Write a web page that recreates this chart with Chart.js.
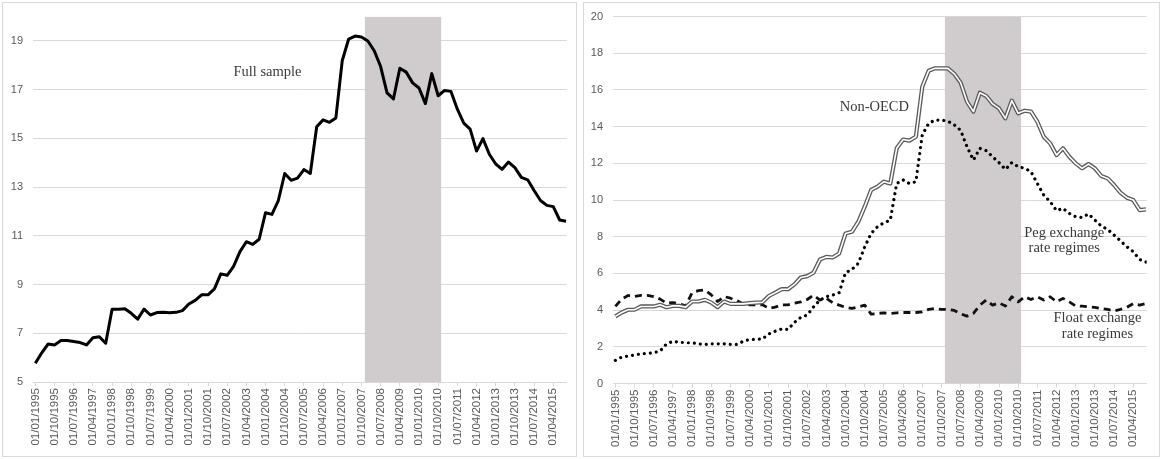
<!DOCTYPE html>
<html>
<head>
<meta charset="utf-8">
<script src="https://cdn.jsdelivr.net/npm/chart.js@4.4.1/dist/chart.umd.min.js"></script>
<style>
  html, body { margin: 0; padding: 0; background: #ffffff; }
  body { width: 1162px; height: 459px; position: relative; overflow: hidden; }
  .panel { position: absolute; border: 1px solid #d9d9d9; box-sizing: border-box; }
  canvas { position: absolute; top: 0; }
</style>
</head>
<body>
<div class="panel" style="left:2px;top:2px;width:575px;height:455px"></div>
<div class="panel" style="left:583px;top:2px;width:577px;height:455px"></div>
<canvas id="leftChart" width="580" height="459" style="left:0;width:580px;height:459px"></canvas>
<canvas id="rightChart" width="582" height="459" style="left:580px;width:582px;height:459px"></canvas>
<script>
// Quarterly observations, Q1 1995 to Q4 2015 (dd/mm/yyyy)
const quarters = [];
for (let year = 1995; year <= 2015; year++) {
  for (const month of ['01', '04', '07', '10']) quarters.push('01/' + month + '/' + year);
}

// Dates printed under each axis
const xTickLabels = [
  '01/01/1995', '01/10/1995', '01/07/1996', '01/04/1997', '01/01/1998', '01/10/1998', '01/07/1999',
  '01/04/2000', '01/01/2001', '01/10/2001', '01/07/2002', '01/04/2003', '01/01/2004', '01/10/2004',
  '01/07/2005', '01/04/2006', '01/01/2007', '01/10/2007', '01/07/2008', '01/04/2009', '01/01/2010',
  '01/10/2010', '01/07/2011', '01/04/2012', '01/01/2013', '01/10/2013', '01/07/2014', '01/04/2015'
];

// Crisis period (shaded band): first and last quarter
const crisisFirst = '01/01/2008';
const crisisLast = '01/10/2010';

// Value-axis ticks
const leftYTicks = [5, 7, 9, 11, 13, 15, 17, 19];
const rightYTicks = [0, 2, 4, 6, 8, 10, 12, 14, 16, 18, 20];

// Full sample
const fullSample = [
  5.77, 6.20, 6.56, 6.52, 6.70, 6.70, 6.66, 6.62, 6.52, 6.82, 6.86, 6.59,
  7.99, 7.99, 8.01, 7.82, 7.58, 7.99, 7.75, 7.85, 7.86, 7.84, 7.86, 7.93,
  8.20, 8.35, 8.58, 8.58, 8.82, 9.44, 9.38, 9.75, 10.35, 10.76, 10.65, 10.86,
  11.95, 11.88, 12.45, 13.56, 13.28, 13.37, 13.72, 13.56, 15.48, 15.76, 15.66, 15.84,
  18.20, 19.08, 19.20, 19.16, 19.00, 18.60, 17.95, 16.87, 16.62, 17.88, 17.72, 17.28,
  17.07, 16.43, 17.66, 16.75, 16.97, 16.93, 16.20, 15.63, 15.38, 14.48, 14.99, 14.35,
  13.95, 13.73, 14.03, 13.80, 13.40, 13.30, 12.86, 12.45, 12.25, 12.20, 11.65, 11.60
];

// Non-OECD
const nonOecd = [
  3.66, 3.87, 4.02, 4.02, 4.20, 4.20, 4.20, 4.29, 4.16, 4.23, 4.23, 4.16,
  4.47, 4.47, 4.56, 4.41, 4.16, 4.47, 4.34, 4.34, 4.34, 4.38, 4.41, 4.43,
  4.77, 4.95, 5.14, 5.14, 5.40, 5.78, 5.85, 6.04, 6.76, 6.90, 6.87, 7.09,
  8.18, 8.27, 8.82, 9.64, 10.55, 10.73, 11.00, 10.90, 12.82, 13.30, 13.24, 13.45,
  16.18, 17.05, 17.18, 17.18, 17.18, 16.88, 16.40, 15.36, 14.82, 15.85, 15.67, 15.24,
  15.00, 14.45, 15.42, 14.73, 14.87, 14.82, 14.27, 13.45, 13.09, 12.45, 12.82, 12.36,
  12.00, 11.73, 11.96, 11.73, 11.31, 11.18, 10.82, 10.40, 10.13, 10.00, 9.45, 9.49
];

// Peg exchange rate regimes
const pegRegimes = [
  1.26, 1.44, 1.50, 1.55, 1.62, 1.64, 1.68, 1.77, 2.16, 2.30, 2.25, 2.22,
  2.22, 2.16, 2.13, 2.16, 2.16, 2.16, 2.13, 2.13, 2.30, 2.40, 2.40, 2.43,
  2.70, 2.85, 2.97, 2.94, 3.33, 3.60, 3.73, 4.18, 4.55, 4.73, 4.82, 4.95,
  6.04, 6.22, 6.55, 7.45, 8.18, 8.55, 8.76, 8.90, 10.90, 11.10, 10.90, 11.00,
  13.55, 14.18, 14.36, 14.36, 14.30, 14.10, 13.80, 12.90, 12.18, 12.82, 12.69, 12.36,
  12.04, 11.67, 12.04, 11.82, 11.73, 11.55, 10.90, 10.27, 9.91, 9.42, 9.55, 9.27,
  9.09, 9.05, 9.24, 8.91, 8.58, 8.40, 8.09, 7.78, 7.45, 7.18, 6.76, 6.62
];

// Float exchange rate regimes
const floatRegimes = [
  4.20, 4.60, 4.80, 4.74, 4.80, 4.80, 4.74, 4.60, 4.38, 4.41, 4.34, 4.23,
  4.95, 5.06, 5.10, 4.83, 4.47, 4.74, 4.65, 4.52, 4.34, 4.29, 4.29, 4.29,
  4.10, 4.16, 4.29, 4.29, 4.38, 4.45, 4.58, 4.82, 4.55, 4.64, 4.40, 4.27,
  4.15, 4.09, 4.18, 4.27, 3.78, 3.82, 3.85, 3.82, 3.85, 3.87, 3.87, 3.87,
  3.91, 4.04, 4.09, 4.04, 4.04, 3.98, 3.80, 3.67, 3.82, 4.27, 4.55, 4.27,
  4.40, 4.22, 4.73, 4.45, 4.73, 4.58, 4.73, 4.55, 4.73, 4.45, 4.64, 4.45,
  4.22, 4.22, 4.18, 4.15, 4.09, 4.04, 3.96, 4.04, 4.15, 4.36, 4.27, 4.36
];

// ---------------------------------------------------------------------------

const toPoints = values => values.map((v, i) => ({ x: i, y: v }));
const tickIndices = xTickLabels.map(label => quarters.indexOf(label));

const AXIS_GREY = '#595959';
const GRID_GREY = '#d9d9d9';
const SHADE = '#d0cccd';

// Band covering the crisis quarters, filled down to the bottom of the value axis
function crisisBand(top) {
  const from = quarters.indexOf(crisisFirst) - 0.5;
  const to = quarters.indexOf(crisisLast) + 0.5;
  return {
    data: [{ x: from, y: top }, { x: to, y: top }],
    fill: 'start',
    backgroundColor: SHADE,
    borderWidth: 0,
    pointRadius: 0,
    order: 20
  };
}

// Free-standing series labels placed in data coordinates
const seriesNotes = {
  id: 'seriesNotes',
  afterDatasetsDraw(chart, args, opts) {
    const { ctx } = chart;
    const xs = chart.scales.x, ys = chart.scales.y;
    ctx.save();
    ctx.font = '14.5px "Liberation Serif", "DejaVu Serif", serif';
    ctx.fillStyle = '#3a3a3a';
    ctx.textAlign = 'center';
    ctx.textBaseline = 'middle';
    (opts.items || []).forEach(item => {
      item.lines.forEach(line => {
        ctx.fillText(line.text, xs.getPixelForValue(item.x), ys.getPixelForValue(line.y));
      });
    });
    ctx.restore();
  }
};

function makeOptions(yMin, yMax, yTicks, xAxisHeight, rightPad, notes) {
  return {
    responsive: false,
    animation: false,
    events: [],
    layout: { padding: { left: 0, top: 16.5, right: rightPad, bottom: 0 } },
    plugins: {
      legend: { display: false },
      tooltip: { enabled: false },
      seriesNotes: { items: notes }
    },
    scales: {
      x: {
        type: 'linear',
        min: -0.37,
        max: 83.1,
        afterBuildTicks: scale => { scale.ticks = tickIndices.map(v => ({ value: v })); },
        afterFit: scale => { scale.height = xAxisHeight; },
        ticks: {
          autoSkip: false,
          minRotation: 90,
          maxRotation: 90,
          padding: 2,
          color: AXIS_GREY,
          font: { family: '"Liberation Sans", Arial, sans-serif', size: 11.5 },
          callback: value => quarters[value]
        },
        grid: { drawOnChartArea: false, drawTicks: true, tickLength: 4, color: GRID_GREY },
        border: { display: true, color: GRID_GREY }
      },
      y: {
        min: yMin,
        max: yMax,
        afterBuildTicks: scale => { scale.ticks = yTicks.map(v => ({ value: v })); },
        afterFit: scale => { scale.width = 33; },
        ticks: {
          padding: 10,
          color: AXIS_GREY,
          font: { family: '"Liberation Sans", Arial, sans-serif', size: 11 }
        },
        grid: { color: GRID_GREY, drawTicks: false },
        border: { display: false }
      }
    }
  };
}

const lineBase = { pointRadius: 0, tension: 0, fill: false, borderJoinStyle: 'round' };

new Chart(document.getElementById('leftChart'), {
  type: 'line',
  data: {
    datasets: [
      Object.assign({}, lineBase, {
        label: 'Full sample',
        data: toPoints(fullSample),
        borderColor: '#000000',
        borderWidth: 3,
        order: 1
      }),
      crisisBand(20)
    ]
  },
  options: makeOptions(5, 20, leftYTicks, 77, 13.3, [
    { x: 36.3, lines: [{ text: 'Full sample', y: 17.72 }] }
  ]),
  plugins: [seriesNotes]
});

new Chart(document.getElementById('rightChart'), {
  type: 'line',
  data: {
    datasets: [
      // double line: dark outer stroke with a thin white core
      Object.assign({}, lineBase, {
        label: 'Non-OECD',
        data: toPoints(nonOecd),
        borderColor: '#5a5a5a',
        borderWidth: 4.2,
        order: 3
      }),
      Object.assign({}, lineBase, {
        label: 'Non-OECD core',
        data: toPoints(nonOecd),
        borderColor: '#ffffff',
        borderWidth: 1.6,
        order: 2
      }),
      // round dots
      Object.assign({}, lineBase, {
        label: 'Peg exchange rate regimes',
        data: toPoints(pegRegimes),
        borderColor: '#000000',
        borderWidth: 3.2,
        borderDash: [0.01, 6],
        borderCapStyle: 'round',
        order: 5
      }),
      Object.assign({}, lineBase, {
        label: 'Float exchange rate regimes',
        data: toPoints(floatRegimes),
        borderColor: '#111111',
        borderWidth: 2.8,
        borderDash: [7, 5],
        borderCapStyle: 'butt',
        order: 4
      }),
      crisisBand(20)
    ]
  },
  options: makeOptions(0, 20, rightYTicks, 75.5, 15.3, [
    { x: 40.5, lines: [{ text: 'Non-OECD', y: 15.07 }] },
    { x: 70.2, lines: [{ text: 'Peg exchange', y: 8.2 }, { text: 'rate regimes', y: 7.38 }] },
    { x: 75.4, lines: [{ text: 'Float exchange', y: 3.57 }, { text: 'rate regimes', y: 2.71 }] }
  ]),
  plugins: [seriesNotes]
});
</script>
</body>
</html>
